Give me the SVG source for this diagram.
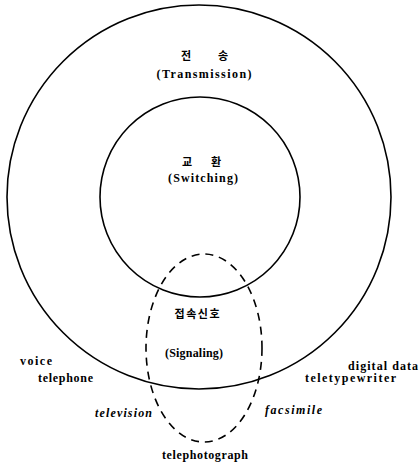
<svg xmlns="http://www.w3.org/2000/svg" width="420" height="466" viewBox="0 0 420 466">
<style>
.c{fill:none;stroke:#000;stroke-width:1.6}
.d{fill:none;stroke:#000;stroke-width:1.6;stroke-dasharray:8 6}
.t{font-family:"Liberation Serif","Noto Sans CJK KR",serif;font-weight:bold;font-size:12px;fill:#000}
.k{font-family:"Noto Sans CJK KR",sans-serif;font-weight:bold;font-size:11px;fill:#000}
.i{font-style:italic}
</style>
<rect width="420" height="466" fill="#fff"/>
<g id="transmission">
<circle class="c" cx="199" cy="197" r="192"/>
<text class="k" x="186" y="60" text-anchor="middle">전</text>
<text class="k" x="223" y="60" text-anchor="middle">송</text>
<text class="t" x="204" y="78" text-anchor="middle" textLength="95">(Transmission)</text>
</g>
<g id="switching">
<circle class="c" cx="200" cy="197" r="100"/>
<text class="k" x="187" y="166" text-anchor="middle">교</text>
<text class="k" x="216" y="166" text-anchor="middle">환</text>
<text class="t" x="203" y="182" text-anchor="middle" textLength="70">(Switching)</text>
</g>
<g id="signaling">
<ellipse class="d" cx="204" cy="348" rx="58" ry="94"/>
<text class="k" x="197" y="318" text-anchor="middle" textLength="45">접속신호</text>
<text class="t" x="194" y="357" text-anchor="middle" textLength="58">(Signaling)</text>
</g>
<g id="labels">
<text class="t" x="20" y="365" textLength="32">voice</text>
<text class="t" x="38" y="382" textLength="55">telephone</text>
<text class="t i" x="95" y="417" textLength="57">television</text>
<text class="t" x="162" y="459" textLength="86">telephotograph</text>
<text class="t i" x="265" y="414" textLength="57">facsimile</text>
<text class="t" x="305" y="382" textLength="91">teletypewriter</text>
<text class="t" x="348" y="370" textLength="70">digital data</text>
</g>
</svg>
